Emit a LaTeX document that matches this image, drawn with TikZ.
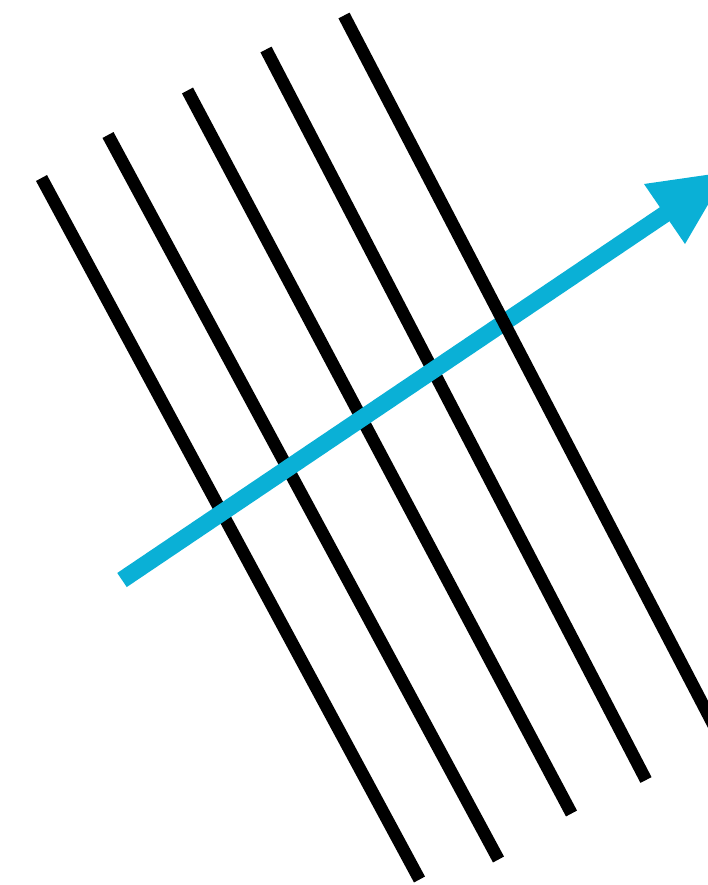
\documentclass[tikz,border=0pt]{standalone}
\definecolor{wavecyan}{RGB}{10,176,214}
\tikzset{
  front/.style={line width=12.5bp, black},
  ray/.style={line width=17bp, wavecyan},
  rayhead/.style={fill=wavecyan, draw=none}
}
\begin{document}
\begin{tikzpicture}[x=1bp,y=-1bp]
\useasboundingbox (0,0) rectangle (708,885);
\clip (0,0) rectangle (708,885);
% wavefront end points
\coordinate (a1) at (41.5,178);   \coordinate (b1) at (419.5,879.5);
\coordinate (a2) at (108,135);    \coordinate (b2) at (498.5,859.5);
\coordinate (a3) at (187.5,90.5); \coordinate (b3) at (571.5,813.5);
\coordinate (a4) at (266,49.5);   \coordinate (b4) at (646,780);
\coordinate (a5) at (344,15.5);   \coordinate (b5) at (724,745);
% ray
\coordinate (r0) at (122,580);
\coordinate (rb) at (668,212);
\coordinate (bl) at (644,184);
\coordinate (br) at (685,244);
\coordinate (tip) at (727,172);
\draw[front] (a1) -- (b1);
\draw[front] (a2) -- (b2);
\draw[front] (a3) -- (b3);
\draw[front] (a4) -- (b4);
\draw[ray] (r0) -- (rb);
\fill[rayhead] (bl) -- (tip) -- (br) -- cycle;
\draw[front] (a5) -- (b5);
\end{tikzpicture}
\end{document}
